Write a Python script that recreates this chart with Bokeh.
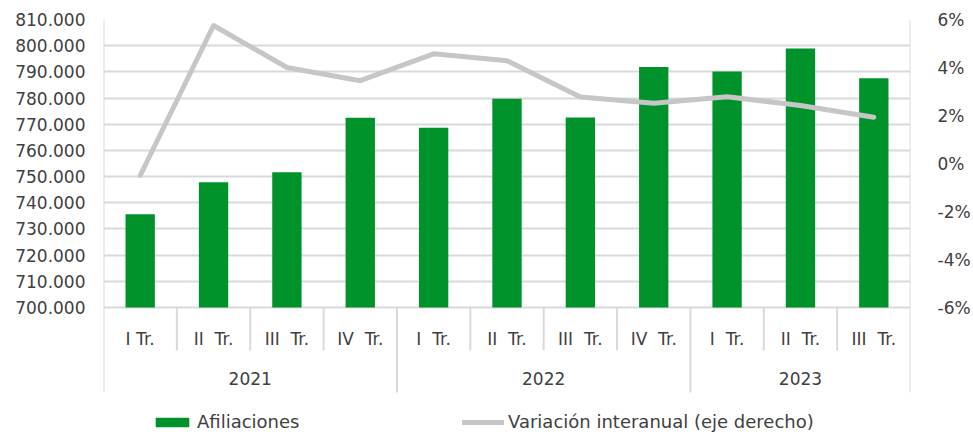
from bokeh.plotting import figure
from bokeh.models import (FactorRange, Range1d, LinearAxis, FixedTicker,
                          CustomJSTickFormatter, ColumnDataSource, Legend, LegendItem)
from bokeh.core.properties import value
from bokeh.embed import file_html
from bokeh.resources import INLINE

# ---- data ----
years = ["2021", "2022", "2023"]
quarters = [
    ["I Tr.", "II\u00a0 Tr.", "III\u00a0 Tr.", "IV\u00a0 Tr."],
    ["I\u00a0 Tr.", "II\u00a0 Tr.", "III\u00a0 Tr.", "IV\u00a0 Tr."],
    ["I\u00a0 Tr.", "II\u00a0 Tr.", "III\u00a0 Tr."],
]
afiliaciones = [735600, 747800, 751700, 772500, 768700, 779700,
                772600, 791900, 790100, 798900, 787600]
variacion = [-0.5, 5.75, 4.0, 3.45, 4.57, 4.28, 2.77, 2.51, 2.78, 2.42, 1.93]
left_ticks = list(range(700000, 810001, 10000))
right_ticks = [-6, -4, -2, 0, 2, 4, 6]

# ---- layout constants ----
FONT = "DejaVu Sans"
TXT = "#404040"
GRID = "#d9d9d9"
GREEN = "#00922B"
GREY = "#c6c6c6"
W, H = 973, 434
ML, MR, MT = 103, 63, 19
frame_h = H - MT
axis_px = 288                     # pixels between 810.000 and 700.000
below_px = frame_h - axis_px      # category/legend area inside frame

factors = [(y, q) for y, qs in zip(years, quarters) for q in qs]
xr = FactorRange(factors=factors, factor_padding=0, group_padding=0, range_padding=0)

lo, hi = left_ticks[0], left_ticks[-1]
y_start = lo - (hi - lo) * below_px / axis_px
rlo, rhi = right_ticks[0], right_ticks[-1]
r_start = rlo - (rhi - rlo) * below_px / axis_px

p = figure(width=W, height=H, x_range=xr, y_range=Range1d(y_start, hi),
           output_backend="svg", toolbar_location=None, x_axis_location=None,
           min_border_left=ML, min_border_right=MR, min_border_top=MT,
           min_border_bottom=0, outline_line_color=None)
p.extra_y_ranges = {"pct": Range1d(r_start, rhi), "lab": Range1d(-below_px, axis_px)}

# left axis
ya = p.yaxis[0]
ya.ticker = FixedTicker(ticks=left_ticks)
ya.formatter = CustomJSTickFormatter(code="""
const s = Math.round(tick).toString();
return s.replace(/\\B(?=(\\d{3})+(?!\\d))/g, '.');
""")
ya.axis_line_color = None
ya.major_tick_line_color = None
ya.minor_tick_line_color = None
ya.major_tick_out = 0
ya.major_label_standoff = 18
ya.major_label_text_font = FONT
ya.major_label_text_font_size = "17px"
ya.major_label_text_color = TXT

# right axis
ra = LinearAxis(y_range_name="pct", ticker=FixedTicker(ticks=right_ticks),
                formatter=CustomJSTickFormatter(code="return tick + '%';"))
ra.axis_line_color = None
ra.major_tick_line_color = None
ra.minor_tick_line_color = None
ra.major_tick_out = 0
ra.major_label_standoff = 27
ra.major_label_text_align = "right"
ra.major_label_text_font = FONT
ra.major_label_text_font_size = "17px"
ra.major_label_text_color = TXT
p.add_layout(ra, "right")

# grid
p.xgrid.visible = False
p.ygrid.ticker = FixedTicker(ticks=left_ticks)
p.ygrid.grid_line_color = GRID
p.ygrid.grid_line_width = 2

# category separators
bounds = [0]
for qs in quarters:
    bounds.append(bounds[-1] + len(qs))
n = bounds[-1]
q_sep = [i for i in range(1, n) if i not in bounds]
y_sep = bounds[1:-1]
edges = [bounds[0], bounds[-1]]
p.segment(x0=q_sep, x1=q_sep, y0=[0] * len(q_sep), y1=[-43] * len(q_sep),
          y_range_name="lab", line_color=GRID, line_width=2)
p.segment(x0=y_sep, x1=y_sep, y0=[0] * len(y_sep), y1=[-85] * len(y_sep),
          y_range_name="lab", line_color=GRID, line_width=2)
p.segment(x0=edges, x1=edges, y0=[-85, -85], y1=[axis_px, axis_px],
          y_range_name="lab", line_color=GRID, line_width=2)

# bars
src = ColumnDataSource(dict(x=factors, top=afiliaciones, pct=variacion))
bars = p.vbar(x="x", top="top", bottom=lo, width=0.4, source=src,
              fill_color=GREEN, line_color=None)
# line
ln = p.line(x="x", y="pct", source=src, y_range_name="pct", line_color=GREY,
            line_width=5, line_cap="round", line_join="round")

# category labels
p.text(x=factors, y=[-31] * len(factors), text=[f[1] for f in factors],
       y_range_name="lab", text_align="center", text_baseline="middle",
       text_font=value(FONT), text_font_size="17px", text_color=TXT)
p.text(x=years, y=[-71] * len(years), text=years,
       y_range_name="lab", text_align="center", text_baseline="middle",
       text_font=value(FONT), text_font_size="17px", text_color=TXT)

# legends
def mk_legend(item, x):
    lg = Legend(items=[item], location=(x, 2), orientation="horizontal",
                padding=0, margin=0, border_line_color=None,
                background_fill_alpha=0, glyph_width=42, glyph_height=12,
                label_standoff=4, label_text_font=FONT,
                label_text_font_size="18px", label_text_color=TXT)
    p.add_layout(lg)

mk_legend(LegendItem(label="Afiliaciones", renderers=[bars]), 48)
mk_legend(LegendItem(label="Variación interanual (eje derecho)", renderers=[ln]), 359)

open("out.html", "w").write(file_html(p, INLINE))
